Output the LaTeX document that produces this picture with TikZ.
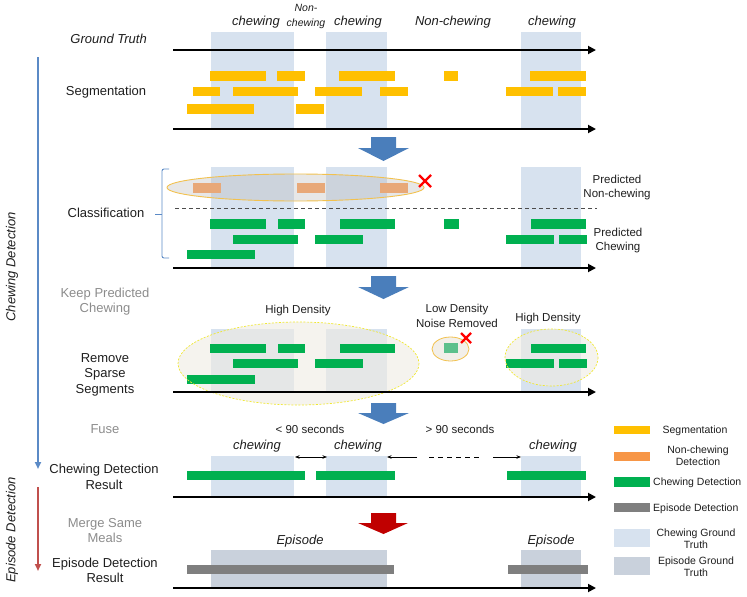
\documentclass[tikz,border=0pt]{standalone}
\usepackage{fontspec}
\setmainfont{Liberation Sans}
\usetikzlibrary{arrows.meta}
\definecolor{txtc}{HTML}{1E1E1E}
\definecolor{greytxt}{HTML}{8C8C8C}
\definecolor{gtblue}{HTML}{D7E2EF}
\definecolor{epgt}{HTML}{C9D1DC}
\definecolor{segc}{HTML}{FFC000}
\definecolor{nonc}{HTML}{E8A878}
\definecolor{noncleg}{HTML}{F79646}
\definecolor{chewc}{HTML}{00B050}
\definecolor{fadedc}{HTML}{5CC08C}
\definecolor{epc}{HTML}{7F7F7F}
\definecolor{bigblue}{HTML}{4A7EBB}
\definecolor{bigred}{HTML}{C00000}
\definecolor{lineblue}{HTML}{5B8AC6}
\definecolor{linered}{HTML}{C0504D}
\definecolor{ellgold}{HTML}{F2C14E}
\definecolor{ellyellow}{HTML}{F0E830}
\definecolor{beige}{HTML}{EFEBE3}
\begin{document}
\begin{tikzpicture}[x=1pt,y=-1pt,
  txt/.style={inner sep=0pt,anchor=base,text=txtc,font=\fontsize{13}{15}\selectfont},
  itxt/.style={txt,font=\fontsize{13}{15}\selectfont\itshape},
  sitxt/.style={txt,font=\fontsize{10.5}{12}\selectfont\itshape},
  stxt/.style={txt,font=\fontsize{11.5}{13}\selectfont},
  gtxt/.style={txt,text=greytxt},
  ltxt/.style={txt,font=\fontsize{10.5}{12}\selectfont},
  axis/.style={line width=1.8pt,black,-{Triangle[length=8pt,width=8pt]}},
  bigarrow/.style={fill=bigblue},
  redx/.style={line width=2.4pt,red},
  smallarr/.style={line width=0.7pt,black,-{Stealth[length=4.5pt,width=3.5pt]}}
]
\useasboundingbox (0,0) rectangle (747,597);

% ---------- ground truth regions ----------
\foreach \ya/\yb in {32/129,167/268,329/392,456/497}{
  \fill[gtblue] (211,\ya) rectangle (294,\yb);
  \fill[gtblue] (326,\ya) rectangle (387,\yb);
  \fill[gtblue] (521,\ya) rectangle (581,\yb);
}
\fill[epgt] (211,550) rectangle (387,588);
\fill[epgt] (521,550) rectangle (581,588);

% ---------- top labels ----------
\node[itxt] (l1) at (256,25) {chewing};
\node[sitxt] (l2a) at (306,12) {Non-};
\node[sitxt] (l2b) at (306,26) {chewing};
\node[itxt] (l3) at (358,25) {chewing};
\node[itxt] (l4) at (453,25) {Non-chewing};
\node[itxt] (l5) at (552,25) {chewing};
\node[itxt,anchor=base east] (gt) at (147,43.5) {Ground Truth};

% ---------- axes ----------
\coordinate (a1s) at (173,50);  \coordinate (a1e) at (596,50);
\coordinate (a2s) at (173,129); \coordinate (a2e) at (596,129);
\coordinate (a3s) at (173,268); \coordinate (a3e) at (596,268);
\coordinate (a4s) at (173,392); \coordinate (a4e) at (596,392);
\coordinate (a5s) at (173,497); \coordinate (a5e) at (596,497);
\coordinate (a6s) at (173,588); \coordinate (a6e) at (596,588);

% ---------- segmentation ----------
\node[txt] (seg) at (106,95) {Segmentation};
\foreach \xa/\xb in {210/266,277/305,339/395,444/458,530/586} \fill[segc] (\xa,71) rectangle (\xb,81);
\foreach \xa/\xb in {193/220,233/298,315/362,380/408,506/553,558/586} \fill[segc] (\xa,87) rectangle (\xb,96);
\foreach \xa/\xb in {187/254,296/324} \fill[segc] (\xa,104) rectangle (\xb,114);

% big arrow 1
\fill[bigblue] (371,137) -- (396,137) -- (396,148) -- (409,148) -- (383.5,161) -- (358,148) -- (371,148) -- cycle;

% ---------- classification ----------
\node[txt] (cls) at (106,217) {Classification};
\fill[gray!55,fill opacity=0.35] (295.5,187.5) ellipse [x radius=128.5,y radius=13.5];
\foreach \xa/\xb in {193/221,297/325,380/408} \fill[nonc] (\xa,183) rectangle (\xb,193);
\draw[ellgold,line width=0.9pt] (295.5,187.5) ellipse [x radius=128.5,y radius=13.5];
\draw[redx] (419,175) -- (431,187) (419,187) -- (431,175);
\draw[dashed,dash pattern=on 4pt off 3pt,line width=0.7pt,black!70] (175,208) -- (597,208);
\foreach \xa/\xb in {210/266,278/305,340/395,444/459,531/586} \fill[chewc] (\xa,219) rectangle (\xb,229);
\foreach \xa/\xb in {233/298,315/363,506/554,559/587} \fill[chewc] (\xa,235) rectangle (\xb,244);
\fill[chewc] (187,250) rectangle (255,259);
\draw[lineblue,line width=0.9pt,rounded corners=2pt] (169,169) -- (162,169) -- (162,258) -- (169,258);
\draw[lineblue,line width=0.9pt] (155,214) -- (162,214);
\node[stxt] (pn1) at (617,183) {Predicted};
\node[stxt] (pn2) at (617,197) {Non-chewing};
\node[stxt] (pc1) at (618,236) {Predicted};
\node[stxt] (pc2) at (618,250) {Chewing};

% big arrow 2
\fill[bigblue] (371,276) -- (396,276) -- (396,287) -- (409,287) -- (383.5,299) -- (358,287) -- (371,287) -- cycle;

% ---------- remove sparse ----------
\node[gtxt] (kp1) at (105,297) {Keep Predicted};
\node[gtxt] (kp2) at (105,312) {Chewing};
\node[stxt] (hd1) at (298,313) {High Density};
\node[stxt] (ld1) at (457,312) {Low Density};
\node[stxt] (ld2) at (457,327) {Noise Removed};
\node[stxt] (hd2) at (548,321) {High Density};
\node[txt] (rm1) at (105,362) {Remove};
\node[txt] (rm2) at (105,377) {Sparse};
\node[txt] (rm3) at (105,393) {Segments};
\fill[beige,fill opacity=0.6] (298.5,363.5) ellipse [x radius=120.5,y radius=41.5];
\fill[beige,fill opacity=0.6] (551.5,357.5) ellipse [x radius=46.5,y radius=28.5];
\fill[beige,fill opacity=0.8] (450.5,349) ellipse [x radius=18.5,y radius=12];
\foreach \xa/\xb in {210/266,278/305,340/395,531/586} \fill[chewc] (\xa,344) rectangle (\xb,353);
\foreach \xa/\xb in {233/298,315/363,506/554,559/587} \fill[chewc] (\xa,359) rectangle (\xb,368);
\fill[chewc] (187,375) rectangle (255,384);
\fill[fadedc] (444,343) rectangle (458,353);
\draw[ellyellow,line width=0.7pt,dashed,dash pattern=on 2pt off 1.5pt] (298.5,363.5) ellipse [x radius=120.5,y radius=41.5];
\draw[ellyellow,line width=0.7pt,dashed,dash pattern=on 2pt off 1.5pt] (551.5,357.5) ellipse [x radius=46.5,y radius=28.5];
\draw[ellgold,line width=0.8pt] (450.5,349) ellipse [x radius=18.5,y radius=12];
\draw[redx] (461,333) -- (471,343) (461,343) -- (471,333);

% big arrow 3
\fill[bigblue] (371,403) -- (396,403) -- (396,413) -- (409,413) -- (383.5,424) -- (358,413) -- (371,413) -- cycle;

% ---------- fuse ----------
\node[gtxt] (fuse) at (105,433) {Fuse};
\node[stxt] (lt90) at (310,433) {< 90 seconds};
\node[stxt] (gt90) at (460,433) {> 90 seconds};
\node[itxt] (c1) at (257,449) {chewing};
\node[itxt] (c2) at (358,449) {chewing};
\node[itxt] (c3) at (553,449) {chewing};
\coordinate (f1) at (295,457); \coordinate (f2) at (327,457);
\draw[smallarr,{Stealth[length=4.5pt,width=3.5pt]}-{Stealth[length=4.5pt,width=3.5pt]}] (f1) -- (f2);
\coordinate (f3) at (417,457); \coordinate (f4) at (387,457);
\coordinate (f5) at (429,457); \coordinate (f6) at (481,457);
\coordinate (f7) at (493,457); \coordinate (f8) at (521,457);
\draw[smallarr] (f3) -- (f4);
\draw[line width=0.8pt,dashed,dash pattern=on 5pt off 4pt] (f5) -- (f6);
\draw[smallarr] (f7) -- (f8);
\node[txt] (cd1) at (104,473) {Chewing Detection};
\node[txt] (cd2) at (104,489) {Result};
\foreach \xa/\xb in {187/305,316/395,507/586} \fill[chewc] (\xa,471) rectangle (\xb,480);

% red arrow
\fill[bigred] (371,513) -- (396,513) -- (396,523) -- (408,523) -- (383.5,534) -- (358,523) -- (371,523) -- cycle;

% ---------- episode ----------
\node[gtxt] (mg1) at (105,527) {Merge Same};
\node[gtxt] (mg2) at (105,542) {Meals};
\node[itxt] (ep1) at (300,544) {Episode};
\node[itxt] (ep2) at (551,544) {Episode};
\node[txt] (ed1) at (105,567) {Episode Detection};
\node[txt] (ed2) at (105,582) {Result};
\foreach \xa/\xb in {187/394,508/588} \fill[epc] (\xa,565) rectangle (\xb,574);

% axes on top
\foreach \n in {1,...,6} \draw[axis] (a\n s) -- (a\n e);

% ---------- left column ----------
\coordinate (bl1) at (38,57); \coordinate (bl2) at (38,469);
\coordinate (rl1) at (38,487); \coordinate (rl2) at (38,571);
\draw[lineblue,line width=2pt,-{Triangle[length=7pt,width=6pt]}] (bl1) -- (bl2);
\draw[linered,line width=2pt,-{Triangle[length=7pt,width=6pt]}] (rl1) -- (rl2);
\node[itxt,anchor=center,rotate=90] (chd) at (12,267) {Chewing Detection};
\node[itxt,anchor=center,rotate=90] (epd) at (12,530) {Episode Detection};

% ---------- legend ----------
\fill[segc] (614,426) rectangle (650,434);
\node[ltxt] (lg1) at (695,433.5) {Segmentation};
\fill[noncleg] (614,452) rectangle (650,461);
\node[ltxt] (lg2a) at (698,453) {Non-chewing};
\node[ltxt] (lg2b) at (698,465) {Detection};
\fill[chewc] (614,477) rectangle (650,487);
\node[ltxt,anchor=base west] (lg3) at (653,485.5) {Chewing Detection};
\fill[epc] (614,503) rectangle (650,512);
\node[ltxt,anchor=base west] (lg4) at (653,511) {Episode Detection};
\fill[gtblue] (614,529) rectangle (650,547);
\node[ltxt] (lg5a) at (696,536) {Chewing Ground};
\node[ltxt] (lg5b) at (696,548) {Truth};
\fill[epgt] (614,557) rectangle (650,575);
\node[ltxt] (lg6a) at (696,564) {Episode Ground};
\node[ltxt] (lg6b) at (696,576) {Truth};
\end{tikzpicture}
\end{document}
